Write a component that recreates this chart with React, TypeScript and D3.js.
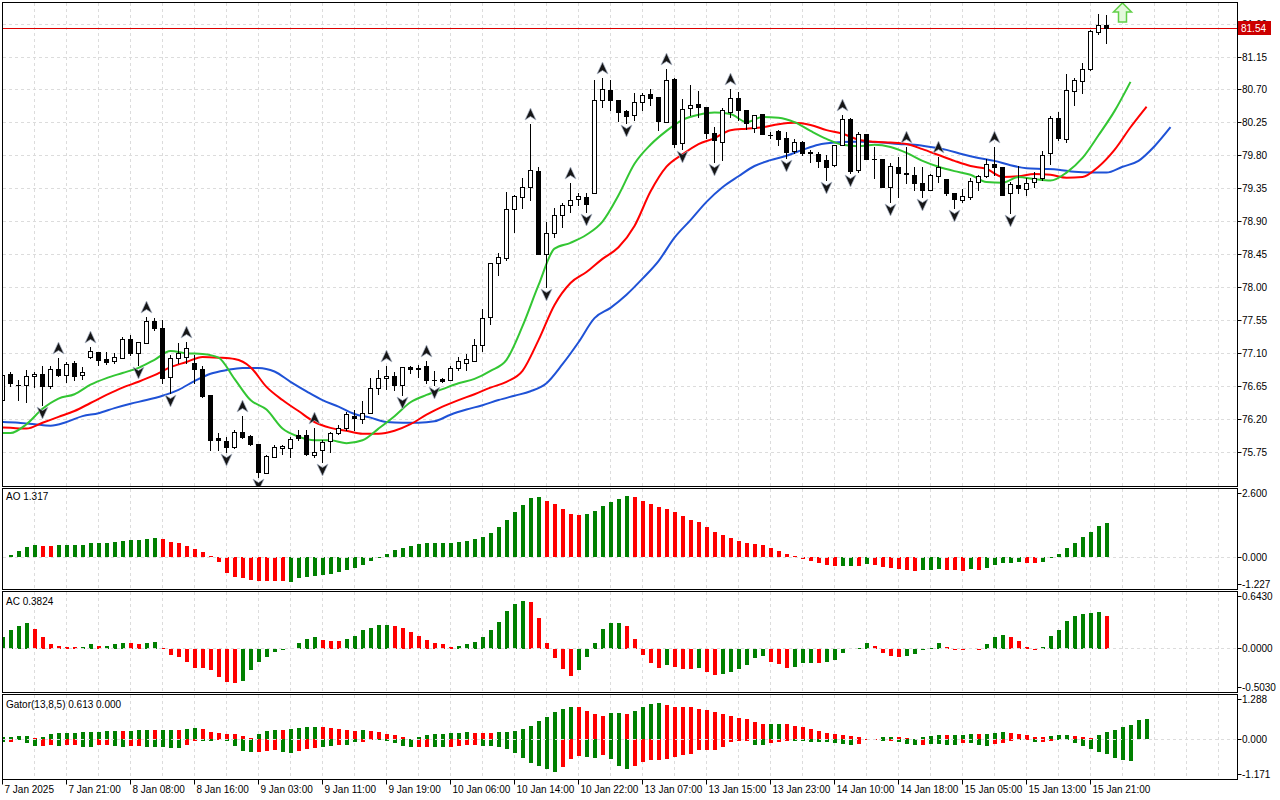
import * as d3 from 'd3';

// ---- price data, one entry per hourly bar, bar index -1 .. 137 ----
const opens = [
  76.46, 76.82, 76.67, 76.67, 76.79, 76.82, 76.65, 76.89, 76.80, 76.97, 76.80,
  77.05, 77.12, 77.02, 76.99, 77.04, 77.30, 77.10, 77.24, 77.54, 77.45,
  76.78, 77.04, 77.05, 76.97, 76.89, 76.53, 75.94, 75.90, 75.82, 76.02,
  75.97, 75.86, 75.46, 75.68, 75.81, 75.81, 75.98, 75.98, 75.71, 75.78,
  75.90, 76.01, 76.08, 76.24, 76.20, 76.28, 76.63, 76.76, 76.79, 76.67,
  76.91, 76.90, 76.93, 76.74, 76.75, 76.74, 76.90, 76.97, 76.99, 77.21,
  77.60, 78.33, 78.40, 79.07, 79.24, 79.37, 79.59, 78.46, 78.74, 78.99,
  79.13, 79.21, 79.24, 79.29, 80.56, 80.70, 80.56, 80.41, 80.36, 80.54,
  80.64, 80.60, 80.26, 80.85, 79.98, 80.45, 80.51, 80.47, 80.11, 79.99,
  80.40, 80.59, 80.43, 80.18, 80.37, 80.08, 80.14, 80.04, 79.87, 79.99,
  79.85, 79.82, 79.74, 79.67, 79.95, 80.30, 79.61, 80.10, 79.76, 79.76,
  79.37, 79.65, 79.56, 79.54, 79.43, 79.33, 79.52, 79.48, 79.29, 79.20,
  79.24, 79.44, 79.52, 79.69, 79.65, 79.29, 79.40, 79.35, 79.44, 79.50,
  79.84, 80.32, 80.03, 80.69, 80.82, 80.99, 81.49, 81.59,
];
const highs = [
  76.87, 76.85, 76.74, 76.87, 76.85, 76.93, 76.93, 77.04, 76.98, 76.99, 76.91,
  77.19, 77.12, 77.12, 77.10, 77.32, 77.35, 77.25, 77.60, 77.58, 77.56,
  77.08, 77.24, 77.26, 77.08, 76.93, 76.53, 76.01, 75.96, 76.05, 76.24,
  75.98, 75.86, 75.71, 75.85, 75.85, 75.96, 76.05, 76.05, 76.08, 75.91,
  76.02, 76.12, 76.30, 76.33, 76.45, 76.76, 76.87, 76.93, 76.85, 76.91,
  76.93, 76.94, 76.99, 76.86, 76.76, 76.93, 77.05, 77.09, 77.30, 77.71,
  78.33, 78.47, 79.30, 79.26, 79.50, 80.23, 79.65, 78.90, 79.09, 79.15,
  79.43, 79.29, 79.29, 80.84, 80.86, 80.84, 80.56, 80.43, 80.66, 80.66,
  80.71, 80.60, 80.99, 80.86, 80.58, 80.77, 80.69, 80.47, 80.19, 80.45,
  80.71, 80.67, 80.43, 80.36, 80.37, 80.13, 80.15, 80.13, 80.03, 80.00,
  79.88, 79.85, 79.81, 79.95, 80.36, 80.32, 80.13, 80.10, 79.92, 79.76,
  79.70, 79.78, 79.92, 79.65, 79.65, 79.55, 79.78, 79.48, 79.29, 79.35,
  79.50, 79.54, 79.76, 79.92, 79.65, 79.44, 79.66, 79.50, 79.58, 79.87,
  80.34, 80.40, 80.92, 80.86, 81.07, 81.52, 81.74, 81.72,
];
const lows = [
  76.39, 76.65, 76.46, 76.43, 76.64, 76.39, 76.63, 76.79, 76.71, 76.74, 76.75,
  77.04, 76.94, 76.95, 76.97, 77.04, 77.08, 76.94, 77.24, 77.42, 76.69,
  76.56, 76.97, 76.97, 76.69, 76.50, 75.78, 75.78, 75.75, 75.81, 75.94,
  75.85, 75.41, 75.46, 75.68, 75.72, 75.68, 75.91, 75.71, 75.68, 75.61,
  75.75, 75.99, 76.05, 76.05, 76.15, 76.28, 76.54, 76.61, 76.60, 76.53,
  76.83, 76.78, 76.69, 76.67, 76.71, 76.74, 76.87, 76.87, 76.99, 77.13,
  77.50, 78.17, 78.38, 78.76, 79.09, 79.20, 78.46, 78.01, 78.69, 78.83,
  79.03, 79.13, 79.03, 79.29, 80.47, 80.43, 80.28, 80.25, 80.29, 80.43,
  80.49, 80.15, 80.26, 79.92, 79.89, 80.36, 80.33, 80.04, 79.72, 79.74,
  80.33, 80.29, 80.17, 80.13, 80.10, 80.04, 79.95, 79.77, 79.84, 79.81,
  79.72, 79.65, 79.47, 79.66, 79.95, 79.56, 79.58, 79.76, 79.50, 79.37,
  79.17, 79.24, 79.43, 79.33, 79.24, 79.33, 79.44, 79.26, 79.09, 79.17,
  79.21, 79.33, 79.51, 79.54, 79.26, 79.02, 79.29, 79.26, 79.37, 79.47,
  79.69, 80.02, 79.99, 80.49, 80.66, 80.97, 81.47, 81.34,
];
const closes = [
  76.80, 76.69, 76.66, 76.79, 76.82, 76.65, 76.89, 76.80, 76.95, 76.79, 76.85,
  77.13, 77.01, 76.98, 77.05, 77.30, 77.10, 77.25, 77.54, 77.45, 76.76,
  77.04, 77.10, 77.17, 76.89, 76.52, 75.91, 75.91, 75.82, 76.02, 75.96,
  75.86, 75.48, 75.70, 75.82, 75.83, 75.93, 75.94, 75.72, 75.75, 75.89,
  76.01, 76.08, 76.27, 76.22, 76.28, 76.63, 76.76, 76.79, 76.67, 76.91,
  76.89, 76.89, 76.74, 76.73, 76.72, 76.90, 76.99, 77.02, 77.21, 77.58,
  78.33, 78.42, 79.07, 79.25, 79.37, 79.61, 78.46, 78.74, 78.99, 79.13,
  79.20, 79.25, 79.14, 80.56, 80.71, 80.56, 80.40, 80.34, 80.54, 80.63,
  80.59, 80.28, 80.84, 79.96, 80.44, 80.49, 80.47, 80.11, 80.02, 80.43,
  80.59, 80.43, 80.25, 80.36, 80.10, 80.08, 80.03, 79.85, 79.99, 79.84,
  79.84, 79.73, 79.65, 79.95, 80.30, 79.59, 80.10, 79.76, 79.76, 79.37,
  79.66, 79.56, 79.55, 79.43, 79.33, 79.54, 79.65, 79.29, 79.21, 79.25,
  79.46, 79.52, 79.69, 79.65, 79.26, 79.41, 79.36, 79.43, 79.50, 79.81,
  80.32, 80.04, 80.70, 80.84, 80.99, 81.51, 81.59, 81.54,
];
const lastPrice = 81.54;

// ---- alligator, read every second bar ----
// jaw: bars -1, 1, 3 ... 145
const jaw = [
  76.16, 76.15, 76.13, 76.11, 76.16, 76.24, 76.28, 76.35, 76.41, 76.46,
  76.52, 76.60, 76.72, 76.82, 76.87, 76.90, 76.90, 76.85, 76.71, 76.58,
  76.46, 76.37, 76.27, 76.22, 76.16, 76.15, 76.15, 76.17, 76.26, 76.33,
  76.39, 76.46, 76.52, 76.58, 76.69, 76.95, 77.25, 77.58, 77.72, 77.90,
  78.12, 78.36, 78.68, 78.92, 79.17, 79.37, 79.52, 79.66, 79.74, 79.80,
  79.88, 79.95, 79.98, 79.99, 79.99, 79.98, 79.96, 79.95, 79.92, 79.88,
  79.82, 79.77, 79.73, 79.67, 79.63, 79.62, 79.61, 79.58, 79.57, 79.57,
  79.65, 79.73, 79.93, 80.19,
];
// teeth: bars -2, 0, 2 ... 142
const teeth = [
  76.09, 76.08, 76.07, 76.15, 76.23, 76.31, 76.42, 76.53, 76.63, 76.71,
  76.80, 76.91, 76.98, 77.05, 77.04, 77.02, 76.91, 76.64, 76.46, 76.31,
  76.16, 76.08, 76.04, 76.00, 76.00, 76.04, 76.13, 76.26, 76.37, 76.46,
  76.54, 76.63, 76.71, 76.86, 77.28, 77.76, 78.06, 78.21, 78.39, 78.55,
  78.84, 79.31, 79.65, 79.82, 79.96, 80.04, 80.15, 80.17, 80.19, 80.23,
  80.25, 80.22, 80.15, 80.10, 80.02, 79.99, 79.98, 79.96, 79.89, 79.81,
  79.73, 79.66, 79.62, 79.51, 79.52, 79.55, 79.54, 79.50, 79.51, 79.65,
  79.88, 80.19, 80.47,
];
// lips: bars -2, 0, 2 ... 140
const lips = [
  76.01, 76.01, 76.13, 76.34, 76.48, 76.54, 76.67, 76.76, 76.83, 76.90,
  77.01, 77.13, 77.10, 77.09, 77.04, 76.75, 76.46, 76.33, 76.07, 75.96,
  75.91, 75.91, 75.87, 75.91, 76.07, 76.24, 76.43, 76.53, 76.61, 76.69,
  76.75, 76.86, 77.01, 77.47, 78.03, 78.53, 78.61, 78.72, 78.90, 79.26,
  79.69, 79.95, 80.14, 80.29, 80.36, 80.39, 80.37, 80.26, 80.33, 80.32,
  80.26, 80.14, 80.03, 79.95, 79.93, 79.95, 79.92, 79.84, 79.73, 79.65,
  79.59, 79.54, 79.44, 79.43, 79.51, 79.48, 79.46, 79.57, 79.77, 80.08,
  80.41, 80.81,
];

const upFractalBars = [6, 10, 17, 22, 29, 38, 47, 52, 65, 70, 74, 82, 90, 104, 112, 116, 123];
const downFractalBars = [4, 16, 20, 27, 31, 39, 49, 53, 67, 72, 77, 84, 88, 97, 102, 105, 110, 114, 118, 125];
const signalBar = 139;
const signalPrice = 81.63;

// ---- oscillators, bars -1 .. 137 ----
const ao = [
  0, 0.08, 0.25, 0.40, 0.47, 0.43, 0.43, 0.47, 0.47, 0.48, 0.49,
  0.55, 0.55, 0.56, 0.60, 0.64, 0.68, 0.68, 0.72, 0.76, 0.72,
  0.59, 0.55, 0.43, 0.33, 0.20, 0.04, -0.18, -0.61, -0.77, -0.79,
  -0.89, -0.91, -0.92, -0.92, -0.93, -0.94, -0.82, -0.78, -0.72, -0.70,
  -0.63, -0.57, -0.49, -0.40, -0.30, -0.16, 0.02, 0.12, 0.27, 0.35,
  0.43, 0.51, 0.55, 0.55, 0.55, 0.56, 0.59, 0.62, 0.70, 0.78,
  0.94, 1.17, 1.45, 1.76, 2.03, 2.30, 2.34, 2.19, 2.07, 1.88,
  1.68, 1.64, 1.68, 1.80, 1.99, 2.15, 2.27, 2.38, 2.34, 2.19,
  2.07, 1.95, 1.88, 1.76, 1.60, 1.45, 1.37, 1.17, 0.98, 0.86,
  0.74, 0.62, 0.55, 0.51, 0.47, 0.35, 0.23, 0.12, 0.03, -0.05,
  -0.14, -0.23, -0.31, -0.35, -0.35, -0.34, -0.35, -0.27, -0.28, -0.39,
  -0.43, -0.47, -0.51, -0.55, -0.51, -0.50, -0.47, -0.48, -0.51, -0.52,
  -0.47, -0.51, -0.43, -0.31, -0.23, -0.22, -0.20, -0.21, -0.23, -0.20,
  -0.04, 0.12, 0.35, 0.55, 0.78, 0.98, 1.21, 1.317,
];
const aoColorRuns: [string, number][] = [
  ['g', 5], ['r', 2], ['g', 13], ['r', 16], ['g', 32], ['r', 5], ['g', 6], ['r', 26],
  ['g', 2], ['r', 1], ['g', 1], ['r', 6], ['g', 3], ['r', 3], ['g', 1], ['r', 1],
  ['g', 5], ['r', 2], ['g', 9],
];
const ac = [
  0.13, 0.22, 0.26, 0.29, 0.23, 0.13, 0.05, 0.03, 0.02, 0.02, 0.02,
  0.05, 0.03, 0.03, 0.05, 0.07, 0.06, 0.05, 0.07, 0.08, 0.01,
  -0.08, -0.10, -0.16, -0.22, -0.22, -0.25, -0.33, -0.39, -0.40, -0.37,
  -0.25, -0.16, -0.10, -0.04, -0.02, 0.0, 0.06, 0.11, 0.13, 0.10,
  0.09, 0.09, 0.11, 0.14, 0.21, 0.24, 0.27, 0.27, 0.26, 0.24,
  0.19, 0.15, 0.10, 0.07, 0.05, 0.02, 0.03, 0.05, 0.08, 0.13,
  0.22, 0.31, 0.44, 0.52, 0.55, 0.54, 0.35, 0.06, -0.11, -0.24,
  -0.32, -0.25, -0.10, 0.06, 0.23, 0.29, 0.30, 0.26, 0.11, -0.07,
  -0.17, -0.23, -0.19, -0.21, -0.24, -0.24, -0.23, -0.27, -0.31, -0.30,
  -0.27, -0.24, -0.19, -0.11, -0.09, -0.15, -0.18, -0.22, -0.21, -0.17,
  -0.17, -0.17, -0.16, -0.13, -0.05, 0.0, 0.01, 0.06, 0.03, -0.05,
  -0.09, -0.10, -0.09, -0.06, -0.02, 0.01, 0.06, 0.02, -0.005, -0.004,
  0.0, -0.003, 0.05, 0.13, 0.16, 0.13, 0.09, 0.02, -0.003, 0.02,
  0.15, 0.22, 0.32, 0.38, 0.40, 0.41, 0.42, 0.3824,
];
const acColorRuns: [string, number][] = [
  ['g', 4], ['r', 6], ['g', 2], ['r', 1], ['g', 3], ['r', 2], ['g', 2], ['r', 10],
  ['g', 10], ['r', 3], ['g', 6], ['r', 8], ['g', 9], ['r', 6], ['g', 6], ['r', 5],
  ['g', 1], ['r', 3], ['g', 1], ['r', 2], ['g', 6], ['r', 3], ['g', 3], ['r', 1],
  ['g', 6], ['r', 4], ['g', 5], ['r', 3], ['g', 1], ['r', 1], ['g', 3], ['r', 4],
  ['g', 8], ['r', 1],
];

// ---- gator, bars -1 .. 142 ----
const gatorUp = [
  0.06, 0.06, 0.10, 0.10, 0.03, 0.06, 0.16, 0.19, 0.19, 0.19, 0.21,
  0.21, 0.21, 0.24, 0.24, 0.24, 0.24, 0.27, 0.27, 0.27, 0.27,
  0.27, 0.27, 0.30, 0.33, 0.30, 0.21, 0.19, 0.16, 0.16, 0.10,
  0.05, 0.16, 0.24, 0.27, 0.27, 0.30, 0.33, 0.36, 0.36, 0.36,
  0.33, 0.30, 0.27, 0.24, 0.27, 0.24, 0.21, 0.16, 0.13, 0.07,
  0.01, 0.07, 0.13, 0.16, 0.16, 0.19, 0.19, 0.21, 0.19, 0.19,
  0.19, 0.21, 0.21, 0.24, 0.30, 0.39, 0.54, 0.68, 0.80, 0.89,
  0.97, 0.95, 0.83, 0.74, 0.71, 0.77, 0.77, 0.74, 0.83, 0.97,
  1.06, 1.09, 1.03, 0.97, 0.95, 0.95, 0.89, 0.86, 0.80, 0.74,
  0.71, 0.65, 0.62, 0.51, 0.45, 0.45, 0.45, 0.45, 0.39, 0.36,
  0.30, 0.24, 0.19, 0.16, 0.13, 0.10, 0.07, 0.01, 0.01, 0.07,
  0.07, 0.06, 0.03, 0.01, 0.06, 0.10, 0.13, 0.12, 0.13, 0.13,
  0.16, 0.15, 0.16, 0.19, 0.21, 0.20, 0.16, 0.13, 0.07, 0.06,
  0.10, 0.13, 0.13, 0.09, 0.06, 0.03, 0.13, 0.21, 0.27, 0.37,
  0.44, 0.57, 0.613,
];
const gatorUpRuns: [string, number][] = [
  ['g', 4], ['r', 1], ['g', 10], ['r', 1], ['g', 3], ['r', 1], ['g', 2], ['r', 1],
  ['g', 2], ['r', 7], ['g', 3], ['r', 1], ['g', 4], ['r', 5], ['g', 1], ['r', 6],
  ['g', 7], ['r', 3], ['g', 10], ['r', 4], ['g', 2], ['r', 1], ['g', 4], ['r', 13],
  ['g', 2], ['r', 11], ['g', 3], ['r', 3], ['g', 3], ['r', 1], ['g', 3], ['r', 1],
  ['g', 3], ['r', 5], ['g', 3], ['r', 3], ['g', 7],
];
const gatorDown = [
  -0.07, -0.07, -0.01, -0.10, -0.19, -0.19, -0.16, -0.19, -0.16, -0.16, -0.21,
  -0.21, -0.16, -0.16, -0.19, -0.21, -0.19, -0.19, -0.21, -0.21, -0.21,
  -0.24, -0.24, -0.16, -0.04, -0.04, -0.04, -0.01, -0.04, -0.19, -0.33,
  -0.36, -0.36, -0.33, -0.30, -0.36, -0.39, -0.33, -0.27, -0.24, -0.21,
  -0.19, -0.16, -0.16, -0.07, -0.07, -0.01, -0.03, -0.04, -0.10, -0.19,
  -0.21, -0.21, -0.21, -0.21, -0.21, -0.21, -0.19, -0.16, -0.16, -0.19,
  -0.19, -0.21, -0.27, -0.39, -0.54, -0.71, -0.80, -0.86, -0.95, -0.83,
  -0.57, -0.48, -0.51, -0.54, -0.45, -0.59, -0.80, -0.86, -0.80, -0.68,
  -0.62, -0.62, -0.59, -0.51, -0.45, -0.42, -0.30, -0.30, -0.30, -0.21,
  -0.07, -0.04, -0.04, -0.16, -0.16, -0.10, -0.07, -0.04, -0.05, -0.04,
  -0.07, -0.07, -0.07, -0.10, -0.13, -0.16, -0.13, -0.01, -0.01, -0.04,
  -0.04, -0.07, -0.13, -0.16, -0.16, -0.13, -0.13, -0.16, -0.16, -0.10,
  -0.10, -0.16, -0.19, -0.13, -0.10, -0.04, -0.02, -0.03, -0.07, -0.07,
  -0.04, -0.01, -0.01, -0.10, -0.19, -0.28, -0.37, -0.43, -0.55, -0.62,
  -0.65, 0, 0,
];
const gatorDownRuns: [string, number][] = [
  ['g', 1], ['r', 1], ['g', 3], ['r', 2], ['g', 1], ['r', 2], ['g', 2], ['r', 2],
  ['g', 2], ['r', 2], ['g', 5], ['r', 2], ['g', 2], ['r', 1], ['g', 4], ['r', 3],
  ['g', 2], ['r', 3], ['g', 2], ['r', 1], ['g', 2], ['r', 2], ['g', 5], ['r', 2],
  ['g', 2], ['r', 4], ['g', 10], ['r', 3], ['g', 2], ['r', 1], ['g', 3], ['r', 15],
  ['g', 2], ['r', 3], ['g', 8], ['r', 3], ['g', 1], ['r', 1], ['g', 3], ['r', 1],
  ['g', 4], ['r', 1], ['g', 3], ['r', 3], ['g', 1], ['r', 1], ['g', 1], ['r', 2],
  ['g', 10], ['r', 2],
];

// ---- axes ----
const priceTicks = [81.60, 81.15, 80.70, 80.25, 79.80, 79.35, 78.90, 78.45, 78.00, 77.55, 77.10, 76.65, 76.20, 75.75];
const aoTicks = [2.6, 0, -1.227];
const acTicks = [0.643, 0, -0.503];
const gatorTicks = [1.288, 0, -1.171];
const timeLabelBars = [-1, 7, 15, 23, 31, 39, 47, 55, 63, 71, 79, 87, 95, 103, 111, 119, 127, 135];
const timeLabels = [
  '7 Jan 2025', '7 Jan 21:00', '8 Jan 08:00', '8 Jan 16:00', '9 Jan 03:00', '9 Jan 11:00',
  '9 Jan 19:00', '10 Jan 06:00', '10 Jan 14:00', '10 Jan 22:00', '13 Jan 07:00', '13 Jan 15:00',
  '13 Jan 23:00', '14 Jan 10:00', '14 Jan 18:00', '15 Jan 05:00', '15 Jan 13:00', '15 Jan 21:00',
];

const FONT = "Tahoma, 'Liberation Sans', Arial, sans-serif";
const GREEN = '#008000';
const RED = '#ff0000';
const GRID = '#dcdcdc';
const LEFT = 2.5;
const RIGHT = 1237.5;

const expandRuns = (runs: [string, number][]) =>
  runs.flatMap(([c, n]) => Array(n).fill(c === 'g' ? GREEN : RED));

const crisp = (v: number) => Math.round(v - 0.5) + 0.5;

interface Panel { top: number; bottom: number }
const mainPanel: Panel = { top: 2.5, bottom: 486.5 };
const aoPanel: Panel = { top: 488.5, bottom: 589.5 };
const acPanel: Panel = { top: 591.5, bottom: 692.5 };
const gatorPanel: Panel = { top: 694.5, bottom: 779.5 };

export default function App() {
  const x = d3.scaleLinear().domain([-1, 137]).range([2.5, 1106.5]);
  const yMain = d3.scaleLinear().domain([75.75, 81.15]).range([452, 57]);
  const yAO = d3.scaleLinear().domain([-1.227, 2.6]).range([589, 490]);
  const yAC = d3.scaleLinear().domain([-0.503, 0.643]).range([692, 593]);
  const yGator = d3.scaleLinear().domain([-1.171, 1.288]).range([779, 696]);

  // vertical grid every 4 bars
  const gridBars = d3.range(3, 155, 4).filter(k => x(k) < RIGHT);

  const lineGen = (vals: number[], start: number) =>
    d3.line<number>()
      .x((_, i) => x(start + 2 * i))
      .y(v => yMain(v))
      .curve(d3.curveMonotoneX)(vals) || '';

  const panelFrame = (p: Panel, key: string) => (
    <rect key={key} x={LEFT} y={p.top} width={RIGHT - LEFT} height={p.bottom - p.top}
      fill="none" stroke="#000" strokeWidth={1} />
  );

  const vGrid = (p: Panel, key: string) => (
    <g key={key}>
      {gridBars.map(k => (
        <line key={k} x1={x(k)} x2={x(k)} y1={p.top + 0.5} y2={p.bottom - 0.5}
          stroke={GRID} strokeDasharray="3,3" />
      ))}
    </g>
  );

  const hist = (vals: number[], colors: string[], y: d3.ScaleLinear<number, number>, start: number) => {
    const y0 = Math.round(y(0));
    return vals.map((v, i) => {
      if (Math.abs(v) < 0.002) return null;
      const yv = Math.round(y(v));
      const top = Math.min(y0, yv);
      const h = Math.max(1, Math.abs(yv - y0));
      return (
        <rect key={i} x={x(start + i) - 1.5} y={top} width={4} height={h} fill={colors[i]} />
      );
    });
  };

  const axisLabels = (ticks: number[], y: d3.ScaleLinear<number, number>, p: Panel, digits: number) =>
    ticks.map(t => {
      const yy = Math.max(p.top + 5, Math.min(p.bottom - 5, y(t)));
      return (
        <g key={t}>
          <line x1={RIGHT} x2={RIGHT + 4} y1={crisp(yy)} y2={crisp(yy)} stroke="#000" />
          <text x={1242} y={yy} dy="0.35em" fontSize={10} fill="#000">{t.toFixed(digits)}</text>
        </g>
      );
    });

  const aoColors = expandRuns(aoColorRuns);
  const acColors = expandRuns(acColorRuns);
  const gUpColors = expandRuns(gatorUpRuns);
  const gDownColors = expandRuns(gatorDownRuns);

  const yLast = crisp(yMain(lastPrice));

  return (
    <div style={{ position: 'fixed', left: 0, top: 0, width: 1280, height: 800, background: '#fff' }}>
      <svg width={1280} height={800} style={{ display: 'block', fontFamily: FONT }}>
        <defs>
          <clipPath id="clip-main"><rect x={3} y={3} width={1234} height={483} /></clipPath>
          <clipPath id="clip-ao"><rect x={3} y={489} width={1234} height={100} /></clipPath>
          <clipPath id="clip-ac"><rect x={3} y={592} width={1234} height={100} /></clipPath>
          <clipPath id="clip-gator"><rect x={3} y={695} width={1234} height={84} /></clipPath>
        </defs>

        {/* main chart */}
        <g clipPath="url(#clip-main)">
          {vGrid(mainPanel, 'vg-main')}
          {priceTicks.map(t => (
            <line key={t} x1={3} x2={RIGHT} y1={crisp(yMain(t))} y2={crisp(yMain(t))}
              stroke={GRID} strokeDasharray="3,3" />
          ))}
          <line x1={3} x2={RIGHT} y1={yLast} y2={yLast} stroke="#dd0000" />

          <path d={lineGen(jaw, -1)} fill="none" stroke="#1f52d6" strokeWidth={2} />
          <path d={lineGen(teeth, -2)} fill="none" stroke="#ff0000" strokeWidth={2} />
          <path d={lineGen(lips, -2)} fill="none" stroke="#33c633" strokeWidth={2} />

          {opens.map((o, i) => {
            const k = i - 1;
            const c = closes[i];
            const cx = x(k);
            const top = Math.round(yMain(Math.max(o, c)));
            const bot = Math.round(yMain(Math.min(o, c)));
            const bull = c >= o;
            return (
              <g key={k}>
                <line x1={cx} x2={cx} y1={Math.round(yMain(highs[i]))} y2={Math.round(yMain(lows[i])) + 1}
                  stroke="#000" />
                {bot - top >= 1 ? (
                  <rect x={cx - 2} y={top + 0.5} width={4} height={bot - top}
                    fill={bull ? '#fff' : '#000'} stroke="#000" />
                ) : (
                  <line x1={cx - 2.5} x2={cx + 2.5} y1={top + 0.5} y2={top + 0.5} stroke="#000" />
                )}
              </g>
            );
          })}

          {upFractalBars.map(k => (
            <path key={'u' + k} transform={`translate(${x(k)},${Math.round(yMain(highs[k + 1])) - 16})`}
              d="M0,0 L5.5,12 L0,8.5 L-5.5,12 Z" fill="#161616" stroke="#a9b3c6" strokeWidth={0.7} />
          ))}
          {downFractalBars.map(k => (
            <path key={'d' + k} transform={`translate(${x(k)},${Math.round(yMain(lows[k + 1])) + 14})`}
              d="M0,0 L5.5,-12 L0,-8.5 L-5.5,-12 Z" fill="#161616" stroke="#a9b3c6" strokeWidth={0.7} />
          ))}

          <path transform={`translate(${x(signalBar)},${yMain(signalPrice)})`}
            d="M-4,0 L4,0 L4,-10 L9,-10 L0,-19 L-9,-10 L-4,-10 Z"
            fill="#e4f9dc" stroke="#62cf48" strokeWidth={1.5} />
        </g>

        {/* AO */}
        <g clipPath="url(#clip-ao)">
          {vGrid(aoPanel, 'vg-ao')}
          {hist(ao, aoColors, yAO, -1)}
          <line x1={3} x2={RIGHT} y1={crisp(yAO(0))} y2={crisp(yAO(0))} stroke={GRID} strokeDasharray="3,3" />
        </g>

        {/* AC */}
        <g clipPath="url(#clip-ac)">
          {vGrid(acPanel, 'vg-ac')}
          {hist(ac, acColors, yAC, -1)}
          <line x1={3} x2={RIGHT} y1={crisp(yAC(0))} y2={crisp(yAC(0))} stroke={GRID} strokeDasharray="3,3" />
        </g>

        {/* Gator */}
        <g clipPath="url(#clip-gator)">
          {vGrid(gatorPanel, 'vg-gator')}
          {hist(gatorUp, gUpColors, yGator, -1)}
          {hist(gatorDown, gDownColors, yGator, -1)}
          <line x1={3} x2={RIGHT} y1={crisp(yGator(0))} y2={crisp(yGator(0))} stroke={GRID} strokeDasharray="3,3" />
        </g>

        {panelFrame(mainPanel, 'f-main')}
        {panelFrame(aoPanel, 'f-ao')}
        {panelFrame(acPanel, 'f-ac')}
        {panelFrame(gatorPanel, 'f-gator')}

        <text x={6} y={500} fontSize={10}>AO 1.317</text>
        <text x={6} y={605} fontSize={10}>AC 0.3824</text>
        <text x={6} y={708} fontSize={10}>Gator(13,8,5) 0.613 0.000</text>

        {/* right axes */}
        {axisLabels(priceTicks, yMain, mainPanel, 2)}
        <rect x={1238} y={yLast - 7.5} width={33} height={14} fill="#cc0000" />
        <text x={1241} y={yLast} dy="0.35em" fontSize={10} fill="#fff">{lastPrice.toFixed(2)}</text>
        {axisLabels(aoTicks, yAO, aoPanel, 3)}
        {axisLabels(acTicks, yAC, acPanel, 4)}
        {axisLabels(gatorTicks, yGator, gatorPanel, 3)}

        {/* time axis */}
        {timeLabelBars.map((k, i) => (
          <g key={k}>
            <line x1={x(k)} x2={x(k)} y1={gatorPanel.bottom} y2={gatorPanel.bottom + 5} stroke="#000" />
            <text x={x(k) + 2} y={793} fontSize={10}>{timeLabels[i]}</text>
          </g>
        ))}
      </svg>
    </div>
  );
}
